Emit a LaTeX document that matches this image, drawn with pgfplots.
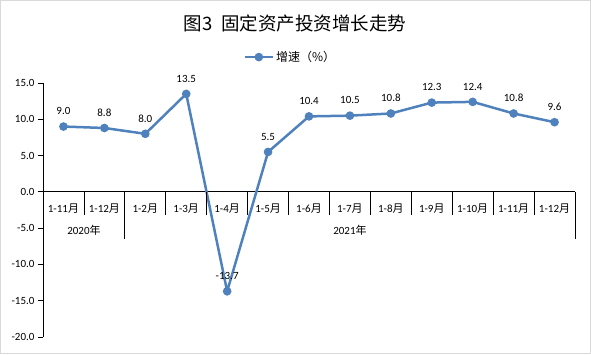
\documentclass[border=0pt]{standalone}
\usepackage{pgfplots}
\pgfplotsset{compat=1.18}
\usepackage{fontspec}
\setmainfont{Carlito}
\newfontfamily\cjk{Noto Sans CJK SC}
\definecolor{serblue}{HTML}{4F81BD}
\definecolor{bord}{HTML}{D9D9D9}
\begin{document}
\begin{tikzpicture}[x=1pt,y=1pt]
\draw[bord, line width=1pt] (0.5,0.5) rectangle (590.5,353.5);
\node[font=\cjk\fontsize{18.5}{20}\selectfont] at (295,331) {图3\hspace{0.45em}固定资产投资增长走势};
\begin{axis}[
  at={(43pt,17pt)}, anchor=south west,
  scale only axis, width=532pt, height=254pt,
  xmin=-0.5, xmax=12.5, ymin=-20, ymax=15,
  axis x line=middle, axis y line=left,
  axis line style={-, black, line width=0.8pt},
  xtick={0,...,12},
  xticklabels={1-11{\cjk 月},1-12{\cjk 月},1-2{\cjk 月},1-3{\cjk 月},1-4{\cjk 月},1-5{\cjk 月},1-6{\cjk 月},1-7{\cjk 月},1-8{\cjk 月},1-9{\cjk 月},1-10{\cjk 月},1-11{\cjk 月},1-12{\cjk 月}},
  x tick style={draw=none},
  x tick label style={font=\fontsize{11}{13}\selectfont, anchor=center, yshift=-12pt},
  ytick={-20,-15,...,15},
  y tick style={black, line width=0.8pt},
  tick align=outside, major tick length=5pt,
  y tick label style={font=\fontsize{11}{13}\selectfont},
  /pgf/number format/assume math mode=true,
  yticklabel={\pgfmathprintnumber[fixed,fixed zerofill,precision=1]{\tick}},
  clip=false,
  nodes near coords,
  nodes near coords style={font=\fontsize{11}{13}\selectfont, text=black, anchor=south, yshift=7pt,
    /pgf/number format/.cd, fixed, fixed zerofill, precision=1},
  legend style={at={(0.465,1.102)}, anchor=center, draw=none, fill=none,
    font=\cjk\fontsize{12}{14}\selectfont},
  legend image code/.code={\draw[mark repeat=2,mark phase=2] plot coordinates {(0pt,0pt) (14pt,0pt) (28pt,0pt)};},
]
\addplot[serblue, line width=2.5pt, mark=*, mark size=3pt, mark options={fill=serblue}]
coordinates {(0,9.0) (1,8.8) (2,8.0) (3,13.5) (4,-13.7) (5,5.5) (6,10.4) (7,10.5) (8,10.8) (9,12.3) (10,12.4) (11,10.8) (12,9.6)};
\addlegendentry{增速（\%）}
\pgfplotsinvokeforeach{0.5,2.5,3.5,4.5,5.5,6.5,7.5,8.5,9.5,10.5,11.5}{
  \draw[black, line width=0.8pt] (axis cs:#1,0) -- ([yshift=-23pt]axis cs:#1,0);
}
\draw[black, line width=0.8pt] (axis cs:1.5,0) -- ([yshift=-47pt]axis cs:1.5,0);
\draw[black, line width=0.8pt] (axis cs:12.5,0) -- ([yshift=-47pt]axis cs:12.5,0);
\node[font=\fontsize{11}{13}\selectfont] at ([yshift=-38pt]axis cs:0.5,0) {2020{\cjk 年}};
\node[font=\fontsize{11}{13}\selectfont] at ([yshift=-38pt]axis cs:7,0) {2021{\cjk 年}};
\end{axis}
\end{tikzpicture}
\end{document}
